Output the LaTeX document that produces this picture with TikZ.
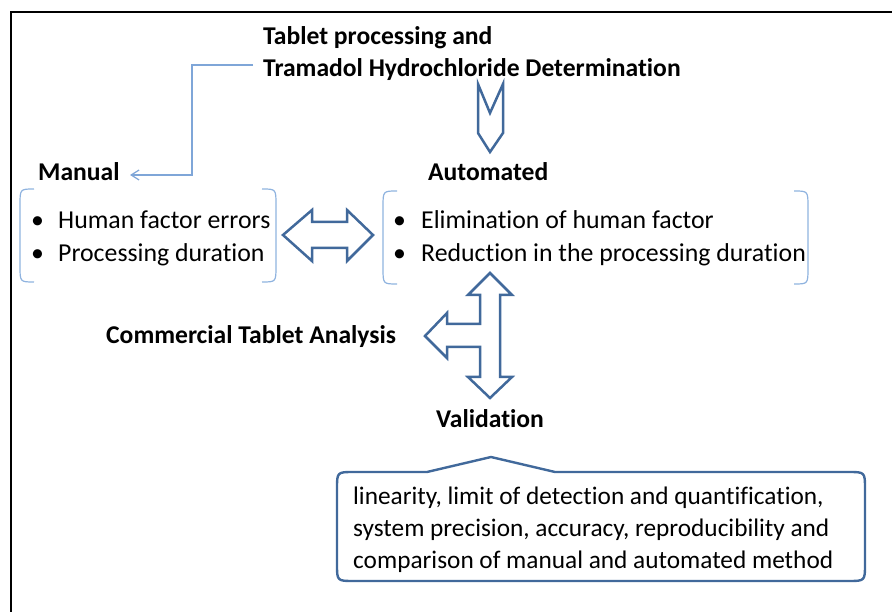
\documentclass[tikz,border=0pt]{standalone}
\usepackage{fontspec}
\setmainfont{Carlito}[Ligatures=NoCommon]
\usetikzlibrary{arrows.meta}
\definecolor{blockblue}{HTML}{41699B}
\definecolor{lineblue}{HTML}{7FA6D8}
\definecolor{bracketblue}{HTML}{8FB3DF}
\begin{document}
\begin{tikzpicture}[x=1pt,y=-1pt,
  head/.style={font=\fontsize{25.6}{32}\selectfont\bfseries, inner sep=0pt, align=left},
  listtext/.style={font=\fontsize{25.8}{33}\selectfont, inner sep=0pt, align=left},
  calltextstyle/.style={font=\fontsize{25.3}{32}\selectfont, inner sep=0pt, align=left},
  blockarrow/.style={draw=blockblue, line width=2.5pt, fill=white, line join=miter},
  bracket/.style={draw=bracketblue, line width=1.2pt},
  conn/.style={draw=lineblue, line width=1.2pt, -{Straight Barb[length=8pt,width=10pt]}}]
\useasboundingbox (0,0) rectangle (892,612);
% frame (top and left edges)
\draw[black, line width=1.3pt] (892,12) -- (11,12) -- (11,612);

% headings
\node[head, anchor=west] (title) at (263,54) {Tablet processing and\\Tramadol Hydrochloride Determination};
\node[head, anchor=west] (manual) at (38,172) {Manual};
\node[head, anchor=west] (auto) at (428,172) {Automated};
\node[head, anchor=west] (cta) at (106,337) {Commercial Tablet Analysis};
\node[head, anchor=center] (valid) at (490,419) {Validation};

% bullet lists
\node[listtext, anchor=west] (leftlist) at (31,238)
  {\makebox[27pt][l]{•}Human factor errors\\\makebox[27pt][l]{•}Processing duration};
\node[listtext, anchor=west] (rightlist) at (393,238)
  {\makebox[28pt][l]{•}Elimination of human factor\\\makebox[28pt][l]{•}Reduction in the processing duration};

% brackets round the lists
\draw[bracket] (34,189) .. controls (20,189) .. (20,205) -- (20,266) .. controls (20,282) .. (34,282);
\draw[bracket] (262,189) .. controls (276,189) .. (276,205) -- (276,266) .. controls (276,282) .. (262,282);
\draw[bracket] (397,191) .. controls (383,191) .. (383,207) -- (383,268) .. controls (383,284) .. (397,284);
\draw[bracket] (794,191) .. controls (808,191) .. (808,207) -- (808,268) .. controls (808,284) .. (794,284);

% elbow connector from the title to Manual
\coordinate (e1) at (253,65);
\coordinate (e2) at (192,175);
\coordinate (mtip) at (130,175);
\draw[conn] (e1) -| (e2) -- (mtip);

% chevron pointing down to Automated
\draw[blockarrow] (478,84) -- (490,113) -- (503,84) -- (503,133) -- (490,152) -- (478,133) -- cycle;

% left-right double arrow
\draw[blockarrow] (283,235) -- (312,210) -- (312,222) -- (347,222) -- (347,210) -- (373,235)
  -- (347,261) -- (347,248) -- (312,248) -- (312,261) -- cycle;

% three-way arrow
\draw[blockarrow] (490,273) -- (512,295) -- (500,295) -- (500,377) -- (512,377) -- (490,398)
  -- (468,377) -- (480,377) -- (480,347) -- (447,347) -- (447,358) -- (425,336) -- (447,313)
  -- (447,324) -- (480,324) -- (480,295) -- (468,295) -- cycle;

% validation callout
\draw[draw=blockblue, line width=2.4pt, fill=white, line join=round]
  (427,472) -- (491,457) -- (555,472) -- (848,472) .. controls (865,472) .. (865,489)
  -- (865,564) .. controls (865,581) .. (848,581) -- (354,581) .. controls (337,581) .. (337,564)
  -- (337,489) .. controls (337,472) .. (354,472) -- cycle;
\node[calltextstyle, anchor=west] (calltext) at (353,530)
  {linearity, limit of detection and quantification,\\system precision, accuracy, reproducibility and\\comparison of manual and automated method};
\end{tikzpicture}
\end{document}
